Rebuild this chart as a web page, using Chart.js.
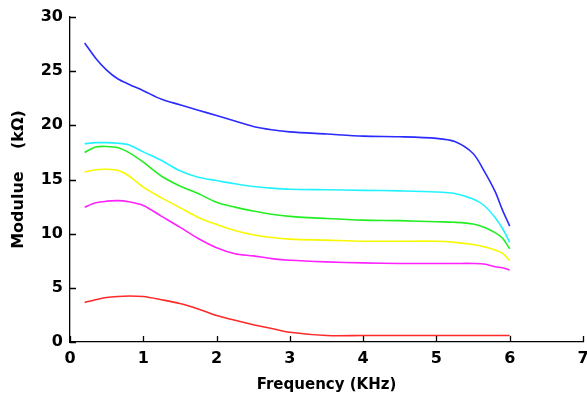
<!DOCTYPE html>
<html>
<head>
<meta charset="utf-8">
<script src="https://cdn.jsdelivr.net/npm/chart.js@4/dist/chart.umd.min.js"></script>
<style>
  html, body { margin: 0; padding: 0; background: #fff; }
  #wrap { width: 587px; height: 402px; position: relative; }
</style>
</head>
<body>
<div id="wrap"><canvas id="myChart"></canvas></div>
<script>
// ======================= DONNÉES =======================
const frequencies = [0.2, 0.35, 0.5, 0.65, 0.8, 1.0, 1.25, 1.5, 1.75, 2.0, 2.25, 2.5, 2.75, 3.0, 3.5, 4.0, 4.5, 5.0, 5.25, 5.5, 5.65, 5.8, 5.9, 6.0];

const blueValues    = [27.6, 26.2, 25.1, 24.3, 23.8, 23.2, 22.4, 21.9, 21.4, 20.9, 20.4, 19.9, 19.6, 19.4, 19.2, 19.0, 18.95, 18.8, 18.5, 17.4, 15.8, 13.9, 12.2, 10.7];
const cyanValues    = [18.3, 18.4, 18.4, 18.35, 18.2, 17.55, 16.75, 15.8, 15.2, 14.9, 14.6, 14.35, 14.2, 14.1, 14.05, 14.0, 13.95, 13.85, 13.7, 13.2, 12.6, 11.5, 10.5, 9.2];
const greenValues   = [17.5, 18.0, 18.05, 17.95, 17.5, 16.6, 15.3, 14.4, 13.7, 12.9, 12.45, 12.1, 11.8, 11.6, 11.4, 11.25, 11.2, 11.1, 11.05, 10.9, 10.6, 10.1, 9.6, 8.6];
const yellowValues  = [15.7, 15.9, 15.95, 15.85, 15.35, 14.3, 13.3, 12.4, 11.5, 10.85, 10.3, 9.9, 9.65, 9.5, 9.4, 9.3, 9.3, 9.3, 9.2, 9.0, 8.8, 8.5, 8.2, 7.5];
const magentaValues = [12.45, 12.85, 13.0, 13.05, 12.95, 12.6, 11.6, 10.6, 9.55, 8.7, 8.15, 7.95, 7.7, 7.55, 7.4, 7.3, 7.25, 7.25, 7.25, 7.25, 7.2, 6.95, 6.85, 6.65];
const redValues     = [3.65, 3.9, 4.1, 4.2, 4.25, 4.2, 3.9, 3.55, 3.05, 2.45, 2.0, 1.6, 1.25, 0.9, 0.6, 0.6, 0.6, 0.6, 0.6, 0.6, 0.6, 0.6, 0.6, 0.6];

const xTicks = [0, 1, 2, 3, 4, 5, 6, 7];
const yTicks = [0, 5, 10, 15, 20, 25, 30];

const xLabel = 'Frequency (KHz)';
const yLabel = 'Modulue    (kΩ)';

// ======================= CONSTRUCTION =======================
function toPoints(values) {
    return values.map((v, i) => ({ x: frequencies[i], y: v }));
}

function makeSeries(values, color) {
    return {
        data: toPoints(values),
        borderColor: color,
        borderWidth: 1.6,
        pointRadius: 0,
        fill: false,
        tension: 0.3
    };
}

// petits traits de graduation tournés vers l'intérieur
const inwardTicks = {
    id: 'inwardTicks',
    afterDraw(chart) {
        const ctx = chart.ctx;
        const xs = chart.scales.x;
        const ys = chart.scales.y;
        const area = chart.chartArea;
        ctx.save();
        ctx.strokeStyle = '#000';
        ctx.lineWidth = 1.3;
        ctx.beginPath();
        xTicks.forEach(t => {
            const px = Math.round(xs.getPixelForValue(t)) + 0.5;
            ctx.moveTo(px, area.bottom);
            ctx.lineTo(px, area.bottom - 6);
        });
        yTicks.forEach(t => {
            const py = Math.round(ys.getPixelForValue(t)) + 0.5;
            ctx.moveTo(area.left, py);
            ctx.lineTo(area.left + 6, py);
        });
        ctx.stroke();
        ctx.restore();
    }
};

const tickFont = { family: 'DejaVu Sans', size: 16, weight: 'bold' };

const ctx = document.getElementById('myChart').getContext('2d');
new Chart(ctx, {
    type: 'line',
    data: {
        datasets: [
            makeSeries(blueValues, '#2a2aff'),
            makeSeries(cyanValues, '#22f2ff'),
            makeSeries(greenValues, '#22ee22'),
            makeSeries(yellowValues, '#f8f800'),
            makeSeries(magentaValues, '#ff22ff'),
            makeSeries(redValues, '#ff2a2a')
        ]
    },
    options: {
        responsive: true,
        maintainAspectRatio: false,
        animation: false,
        layout: { padding: { top: 17, right: 4, left: 0, bottom: 0 } },
        plugins: { legend: { display: false }, tooltip: { enabled: false } },
        scales: {
            x: {
                type: 'linear',
                min: 0, max: 7,
                afterBuildTicks: s => { s.ticks = xTicks.map(v => ({ value: v })); },
                afterFit: s => { s.height = 60; s.paddingRight = 0; s.paddingLeft = 0; },
                ticks: { color: '#000', font: tickFont, padding: 7, maxRotation: 0 },
                grid: { display: true, drawOnChartArea: false, drawTicks: false },
                border: { display: true, color: '#000', width: 1.3 },
                title: {
                    display: true, text: xLabel, color: '#000',
                    font: { family: 'DejaVu Sans', size: 15, weight: 'bold' },
                    padding: { top: 0, bottom: 8 }
                }
            },
            y: {
                type: 'linear',
                min: 0, max: 30,
                afterBuildTicks: s => { s.ticks = yTicks.map(v => ({ value: v })); },
                afterFit: s => { s.width = 70; },
                ticks: { color: '#000', font: tickFont, padding: 7 },
                grid: { display: true, drawOnChartArea: false, drawTicks: false },
                border: { display: true, color: '#000', width: 1.3 },
                title: {
                    display: true, text: yLabel, color: '#000',
                    font: { family: 'DejaVu Sans', size: 16, weight: 'bold' },
                    padding: { top: 9, bottom: 0 }
                }
            }
        }
    },
    plugins: [inwardTicks]
});
</script>
</body>
</html>
